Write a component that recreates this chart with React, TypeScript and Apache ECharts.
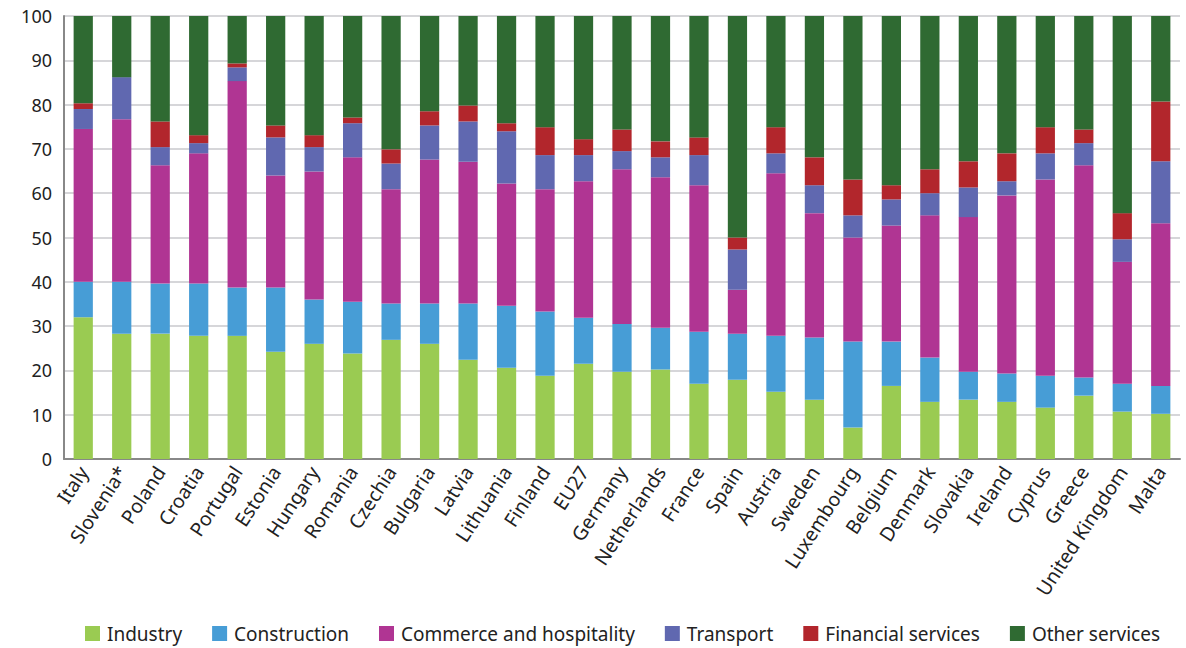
import React, { useEffect, useRef } from "react";
import * as echarts from "echarts";

const categories = [
  "Italy", "Slovenia*", "Poland", "Croatia", "Portugal", "Estonia", "Hungary", "Romania", "Czechia",
  "Bulgaria", "Latvia", "Lithuania", "Finland", "EU27", "Germany", "Netherlands", "France", "Spain",
  "Austria", "Sweden", "Luxembourg", "Belgium", "Denmark", "Slovakia", "Ireland", "Cyprus", "Greece",
  "United Kingdom", "Malta",
];

const industry = [32.0, 28.3, 28.3, 27.8, 27.8, 24.2, 26.0, 23.8, 26.9, 26.0, 22.4, 20.6, 18.8, 21.5, 19.7, 20.2, 17.0, 17.9, 15.2, 13.4, 7.1, 16.5, 12.9, 13.4, 12.9, 11.6, 14.3, 10.7, 10.2];
const construction = [8.0, 11.7, 11.3, 11.8, 10.9, 14.5, 10.0, 11.7, 8.2, 9.1, 12.7, 14.0, 14.5, 10.4, 10.8, 9.4, 11.7, 10.4, 12.6, 14.0, 19.4, 10.0, 10.0, 6.3, 6.4, 7.2, 4.1, 6.3, 6.3];
const commerce = [34.5, 36.7, 26.7, 29.4, 46.6, 25.3, 28.9, 32.6, 25.8, 32.5, 32.0, 27.6, 27.6, 30.8, 34.9, 34.0, 33.1, 9.9, 36.7, 28.1, 23.5, 26.2, 32.1, 34.9, 40.2, 44.3, 47.9, 27.5, 36.7];
const transport = [4.5, 9.5, 4.1, 2.3, 3.1, 8.6, 5.5, 7.7, 5.8, 7.7, 9.1, 11.8, 7.7, 5.9, 4.1, 4.5, 6.8, 9.1, 4.5, 6.3, 5.0, 5.9, 5.0, 6.7, 3.2, 5.9, 5.0, 5.1, 14.0];
const financial = [1.3, 0.0, 5.8, 1.8, 0.9, 2.7, 2.7, 1.3, 3.2, 3.2, 3.6, 1.8, 6.3, 3.6, 4.9, 3.6, 4.0, 2.7, 5.9, 6.3, 8.1, 3.2, 5.4, 5.9, 6.3, 5.9, 3.1, 5.9, 13.5];
const other = [19.7, 13.8, 23.8, 26.9, 10.7, 24.7, 26.9, 22.9, 30.1, 21.5, 20.2, 24.2, 25.1, 27.8, 25.6, 28.3, 27.4, 50.0, 25.1, 31.9, 36.9, 38.2, 34.6, 32.8, 31.0, 25.1, 25.6, 44.5, 19.3];

const seriesNames = ["Industry", "Construction", "Commerce and hospitality", "Transport", "Financial services", "Other services"];
const seriesColors = ["#9acb52", "#479dd6", "#b03593", "#6068b0", "#b2262c", "#2f6a32"];
const seriesData = [industry, construction, commerce, transport, financial, other];

const yTicks = [0, 10, 20, 30, 40, 50, 60, 70, 80, 90, 100];

const FONT = "'Noto Sans', 'Open Sans', sans-serif";

export default function App() {
  const ref = useRef<HTMLDivElement>(null);
  useEffect(() => {
    if (!ref.current) return;
    const chart = echarts.init(ref.current, undefined, { renderer: "svg" });
    chart.setOption({
      animation: false,
      backgroundColor: "#ffffff",
      textStyle: { fontFamily: FONT },
      grid: { left: 64, right: 6, top: 16, bottom: 189, containLabel: false },
      legend: {
        bottom: 0,
        left: 80,
        itemWidth: 15,
        itemHeight: 15,
        itemGap: 30,
        icon: "rect",
        textStyle: { fontSize: 19, color: "#222", fontFamily: FONT, padding: [0, 0, 0, 2] },
        data: seriesNames,
      },
      xAxis: {
        type: "category",
        data: categories,
        axisLine: { lineStyle: { color: "#888", width: 2 } },
        axisTick: { show: false },
        axisLabel: {
          rotate: 57,
          interval: 0,
          fontSize: 19.5,
          color: "#222",
          margin: 9,
          fontFamily: FONT,
        },
      },
      yAxis: {
        type: "value",
        min: yTicks[0],
        max: yTicks[yTicks.length - 1],
        interval: 10,
        axisLine: { show: true, lineStyle: { color: "#888", width: 2 } },
        axisTick: { show: false },
        splitLine: { lineStyle: { color: "#c8c8cc", width: 1.5 } },
        axisLabel: { fontSize: 18, color: "#222", margin: 12, fontFamily: FONT },
      },
      series: seriesNames.map((name, i) => ({
        name,
        type: "bar",
        stack: "total",
        barWidth: "50%",
        data: seriesData[i],
        itemStyle: { color: seriesColors[i] },
      })),
    });
    return () => chart.dispose();
  }, []);
  return (
    <div
      ref={ref}
      style={{ position: "fixed", left: 0, top: 0, width: 1186, height: 648 }}
    />
  );
}
